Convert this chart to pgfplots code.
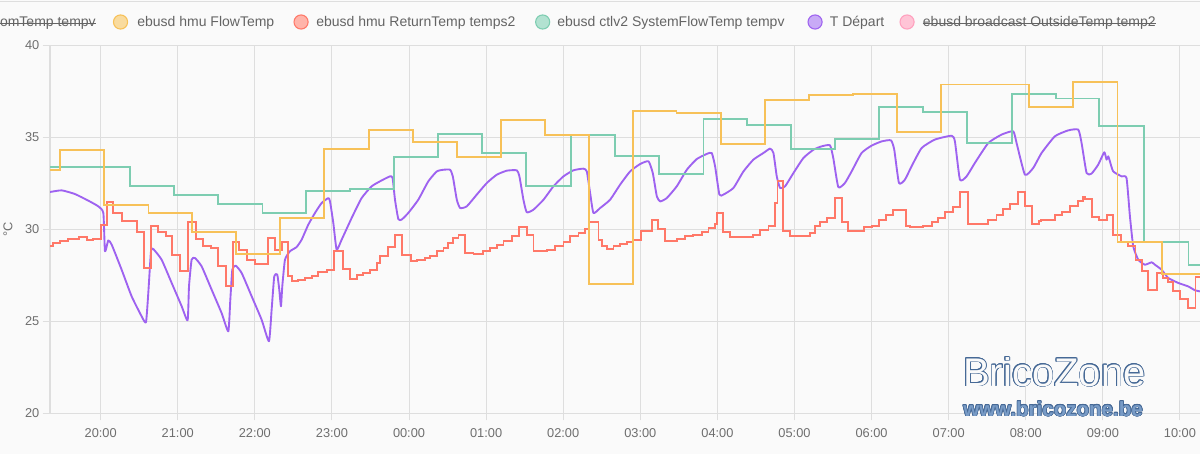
\documentclass[border=0pt]{standalone}
\usepackage{fontspec}
\setmainfont{Liberation Sans}
\usepackage{pgfplots}
\pgfplotsset{compat=1.18}
\usepackage[copies]{contour}

\definecolor{bgcol}{RGB}{250,250,250}
\definecolor{gridcol}{RGB}{222,222,222}
\definecolor{labcol}{RGB}{110,110,110}
\definecolor{legcol}{RGB}{100,100,100}
\definecolor{flowcol}{RGB}{247,193,88}
\definecolor{flowfill}{RGB}{249,219,158}
\definecolor{retcol}{RGB}{255,120,104}
\definecolor{retfill}{RGB}{255,180,170}
\definecolor{syscol}{RGB}{125,205,177}
\definecolor{sysfill}{RGB}{178,226,209}
\definecolor{depcol}{RGB}{158,98,240}
\definecolor{depfill}{RGB}{200,170,246}
\definecolor{outcol}{RGB}{255,160,190}
\definecolor{outfill}{RGB}{255,196,214}
\definecolor{wmdark}{RGB}{70,105,150}
\definecolor{wmfill}{RGB}{120,155,198}

% hours counted from 20:00
\pgfplotstableread{
h v
-0.657 33.37
0.38 32.34
0.955 31.87
1.525 31.34
2.10 30.87
2.66 32.05
3.23 32.16
3.81 33.91
4.38 35.16
4.95 34.13
5.52 32.34
6.10 35.13
6.67 33.97
7.24 32.97
7.82 36.00
8.38 35.67
8.95 34.35
9.52 34.91
10.10 36.65
10.67 36.36
11.24 34.67
11.82 37.34
12.39 37.09
12.95 35.58
13.53 29.29
14.11 28.04
14.26 28.04
}\systemflow

\pgfplotstableread{
h v
-0.657 33.23
-0.53 34.28
0.04 31.29
0.62 30.87
1.19 29.86
1.76 28.66
2.33 30.58
2.90 34.33
3.48 35.40
4.05 34.72
4.62 33.91
5.19 35.91
5.76 35.13
6.33 27.00
6.90 36.40
7.47 36.30
8.05 34.60
8.62 37.03
9.19 37.30
9.76 37.36
10.33 35.28
10.90 37.85
12.04 36.62
12.61 37.97
13.19 29.29
13.77 27.54
14.26 27.54
}\flowtemp

\pgfplotstableread{
h v
-0.657 29.09
-0.614 29.24
-0.527 29.37
-0.419 29.46
-0.277 29.57
-0.180 29.42
-0.096 29.48
0.000 30.24
0.078 31.47
0.164 30.87
0.281 30.42
0.467 29.82
0.566 27.88
0.653 30.18
0.748 29.82
0.843 29.60
0.921 28.61
1.029 27.70
1.137 30.38
1.236 29.47
1.323 29.06
1.431 28.97
1.518 27.97
1.621 26.88
1.721 29.29
1.799 28.84
1.894 28.33
2.002 28.10
2.175 29.49
2.262 28.84
2.348 29.28
2.434 27.43
2.477 27.16
2.564 27.25
2.650 27.34
2.737 27.46
2.823 27.64
2.931 27.79
3.031 28.79
3.147 27.83
3.234 27.30
3.320 27.52
3.407 27.61
3.493 27.79
3.580 28.15
3.623 28.51
3.722 29.00
3.818 29.69
3.913 28.61
4.021 28.24
4.098 28.33
4.207 28.42
4.274 28.51
4.360 28.79
4.447 28.97
4.511 29.24
4.568 29.51
4.641 29.69
4.728 28.70
4.836 28.64
4.965 28.79
5.052 28.97
5.138 29.15
5.225 29.33
5.333 29.60
5.432 30.11
5.527 29.69
5.614 28.79
5.787 28.88
5.895 29.06
6.003 29.28
6.089 29.60
6.198 29.78
6.284 30.00
6.340 30.38
6.457 29.42
6.500 29.09
6.565 28.91
6.652 29.06
6.738 29.20
6.824 29.28
6.911 29.42
7.006 29.87
7.149 30.51
7.235 30.00
7.322 29.33
7.473 29.46
7.581 29.60
7.689 29.69
7.797 29.82
7.884 30.05
7.970 30.29
8.000 30.87
8.078 29.82
8.165 29.57
8.467 29.69
8.554 29.96
8.662 30.14
8.748 31.41
8.779 32.59
8.856 29.87
8.943 29.64
9.202 29.78
9.265 30.14
9.330 30.38
9.416 30.60
9.524 31.68
9.611 30.38
9.697 29.91
9.905 30.11
10.000 30.18
10.095 30.51
10.182 30.78
10.281 31.01
10.445 30.14
10.497 30.11
10.670 30.18
10.778 30.36
10.865 30.60
10.951 30.91
11.051 31.20
11.146 31.99
11.254 30.29
11.513 30.47
11.621 30.78
11.708 31.09
11.794 31.38
11.894 31.99
11.989 31.27
12.084 30.29
12.170 30.42
12.196 30.51
12.378 30.78
12.473 30.91
12.572 31.27
12.672 31.50
12.745 31.74
12.767 31.63
12.862 30.65
12.949 30.47
13.048 30.78
13.134 29.69
13.234 29.28
13.329 29.06
13.424 28.33
13.502 27.70
13.588 26.70
13.697 27.61
13.783 27.34
13.848 27.10
13.913 26.61
13.999 26.20
14.099 25.71
14.202 27.39
14.260 27.39
}\returntemp

\pgfplotstableread{
h v
-0.657 32.01
-0.506 32.10
-0.333 31.90
-0.160 31.54
-0.030 31.23
0.035 30.87
0.056 28.79
0.099 29.38
0.143 29.15
0.272 27.79
0.402 26.34
0.532 25.25
0.588 24.93
0.618 26.52
0.653 28.79
0.683 28.91
0.791 28.33
0.921 27.07
1.051 25.80
1.128 25.04
1.146 26.88
1.180 28.33
1.224 28.42
1.310 27.97
1.440 26.70
1.569 25.43
1.656 24.44
1.682 26.16
1.708 27.79
1.751 28.01
1.829 27.61
1.959 26.34
2.088 25.07
2.183 23.90
2.218 25.62
2.252 27.43
2.291 27.52
2.317 26.70
2.339 25.80
2.356 26.88
2.391 28.33
2.456 28.79
2.542 29.02
2.607 29.42
2.694 30.24
2.780 30.87
2.866 31.41
2.953 31.68
2.975 31.50
3.018 30.33
3.061 28.88
3.126 29.42
3.256 30.60
3.385 31.68
3.515 32.32
3.645 32.64
3.753 32.86
3.787 32.77
3.818 31.59
3.861 30.54
3.904 30.51
3.990 30.87
4.120 31.59
4.250 32.59
4.360 33.13
4.447 33.22
4.533 33.22
4.568 32.86
4.620 31.59
4.663 31.14
4.749 31.23
4.879 31.87
5.009 32.50
5.138 32.95
5.268 33.17
5.398 33.19
5.432 32.86
5.484 31.59
5.527 30.91
5.614 31.05
5.744 31.59
5.873 32.32
6.003 32.86
6.133 33.19
6.262 33.28
6.306 33.13
6.349 31.96
6.392 30.87
6.479 31.14
6.608 31.59
6.738 32.41
6.868 33.13
6.997 33.53
7.106 33.68
7.162 33.04
7.214 31.78
7.257 31.50
7.343 31.68
7.473 32.32
7.603 33.22
7.732 33.80
7.862 34.08
7.927 34.13
7.970 33.41
8.026 31.87
8.078 31.87
8.208 32.23
8.338 33.13
8.467 33.77
8.597 34.13
8.684 34.37
8.727 34.13
8.770 32.86
8.813 32.23
8.878 32.32
8.986 33.04
9.116 33.86
9.246 34.31
9.351 34.49
9.460 34.55
9.503 33.86
9.568 32.28
9.654 32.50
9.741 33.13
9.870 34.13
10.000 34.53
10.130 34.76
10.251 34.82
10.294 34.31
10.355 32.50
10.432 32.68
10.519 33.41
10.649 34.40
10.821 34.86
11.038 35.07
11.081 34.76
11.146 32.68
11.232 32.86
11.340 33.59
11.513 34.67
11.686 35.13
11.837 35.31
11.881 34.67
11.989 32.95
12.097 33.32
12.205 34.13
12.378 35.04
12.551 35.36
12.681 35.40
12.724 34.67
12.789 33.04
12.853 33.01
12.940 33.50
13.018 34.17
13.048 33.77
13.070 33.95
13.091 33.68
13.134 33.13
13.243 32.86
13.307 32.77
13.351 30.69
13.394 29.06
13.459 28.33
13.545 28.06
13.632 28.19
13.675 28.06
13.761 27.79
13.848 27.34
13.977 27.07
14.107 26.88
14.194 26.67
14.260 26.61
}\tdepart

\newcommand{\legfont}{\fontsize{10.5}{12}\selectfont}

\begin{document}
\begin{tikzpicture}
\fill[bgcol] (0pt,0pt) rectangle (900pt,340.5pt);
\path[use as bounding box] (0pt,0pt) rectangle (900pt,340.5pt);
\begin{scope}
\clip (0pt,0pt) rectangle (900pt,340.5pt);
\draw[gridcol, line width=0.75pt] (0pt,339.6pt) -- (900pt,339.6pt);

\begin{axis}[
  at={(37.5pt,30.75pt)}, anchor=south west,
  width=862.5pt, height=276pt, scale only axis,
  xmin=-0.657, xmax=14.26, ymin=20, ymax=40,
  xtick={0,1,...,14},
  xticklabels={20:00,21:00,22:00,23:00,00:00,01:00,02:00,03:00,04:00,05:00,06:00,07:00,08:00,09:00,10:00},
  ytick={20,25,30,35,40},
  /pgf/number format/assume math mode=true,
  grid=major,
  major grid style={gridcol, line width=0.75pt},
  axis x line*=bottom, axis y line*=left,
  axis line style={gridcol, line width=0.75pt},
  tick align=outside, major tick length=5.5pt,
  tick style={gridcol, line width=0.75pt},
  ticklabel style={font=\fontsize{9.6}{11}\selectfont, text=labcol},
  yticklabel style={xshift=1pt},
  xticklabel style={yshift=-2.5pt},
  ylabel={°C},
  ylabel style={at={(axis description cs:-0.0365,0.5)}, anchor=center, rotate=0,
                font=\fontsize{9.6}{11}\selectfont, text=labcol},
  every axis plot/.append style={line width=1.4pt, line join=miter},
  clip=true,
]
\addplot[depcol, line join=round, smooth, tension=0.3] table[x=h, y=v] {\tdepart};
\addplot[syscol, const plot] table[x=h, y=v] {\systemflow};
\addplot[retcol, const plot] table[x=h, y=v] {\returntemp};
\addplot[flowcol, const plot] table[x=h, y=v] {\flowtemp};
\end{axis}

% watermark
\contourlength{0.55pt}
\node[anchor=base west, inner sep=0pt, font=\fontsize{30}{30}\selectfont]
  at (722.25pt,51pt) {\contour{wmdark}{\textcolor{bgcol}{BricoZone}}};
\contourlength{0.45pt}
\node[anchor=base west, inner sep=0pt, font=\bfseries\fontsize{15.4}{16}\selectfont]
  at (722.25pt,28.5pt) {\contour{wmdark}{\textcolor{wmfill}{www.bricozone.be}}};

% legend
\node[anchor=base east, inner sep=0pt, font=\legfont, text=legcol] (l0) at (72pt,320.3pt) {omTemp tempv};
\draw[legcol, line width=0.6pt] ([yshift=3pt]l0.base west) -- ([yshift=3pt]l0.base east);

\filldraw[fill=flowfill, draw=flowcol, line width=0.8pt] (90.4pt,324pt) circle (5.3pt);
\node[anchor=base west, inner sep=0pt, font=\legfont, text=legcol] at (102.8pt,320.3pt) {ebusd hmu FlowTemp};

\filldraw[fill=retfill, draw=retcol, line width=0.8pt] (225.8pt,324pt) circle (5.3pt);
\node[anchor=base west, inner sep=0pt, font=\legfont, text=legcol] at (237pt,320.3pt) {ebusd hmu ReturnTemp temps2};

\filldraw[fill=sysfill, draw=syscol, line width=0.8pt] (407pt,324pt) circle (5.3pt);
\node[anchor=base west, inner sep=0pt, font=\legfont, text=legcol] at (417.8pt,320.3pt) {ebusd ctlv2 SystemFlowTemp tempv};

\filldraw[fill=depfill, draw=depcol, line width=0.8pt] (611.3pt,324pt) circle (5.3pt);
\node[anchor=base west, inner sep=0pt, font=\legfont, text=legcol] at (622.2pt,320.3pt) {T Départ};

\filldraw[fill=outfill, draw=outcol, line width=0.8pt] (680.3pt,324pt) circle (5.3pt);
\node[anchor=base west, inner sep=0pt, font=\legfont, text=legcol] (l5) at (692pt,320.3pt) {ebusd broadcast OutsideTemp temp2};
\draw[legcol, line width=0.6pt] ([yshift=3pt]l5.base west) -- ([yshift=3pt]l5.base east);
\end{scope}
\end{tikzpicture}
\end{document}
